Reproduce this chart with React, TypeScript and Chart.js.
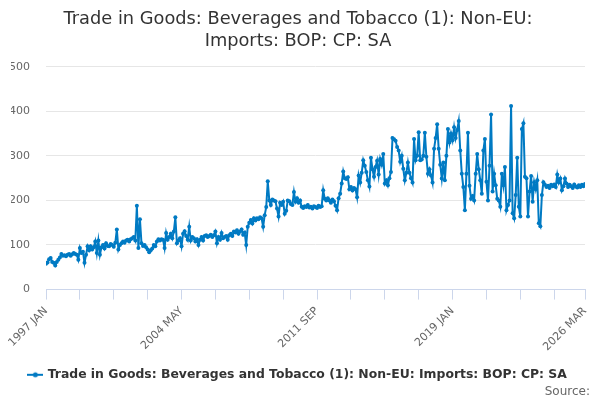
import React, { useEffect, useRef } from "react";
import { Chart, registerables } from "chart.js";

Chart.register(...registerables);

const TITLE = ["Trade in Goods: Beverages and Tobacco (1): Non-EU:", "Imports: BOP: CP: SA"];
const SERIES_NAME = "Trade in Goods: Beverages and Tobacco (1): Non-EU: Imports: BOP: CP: SA";
const MONTHS = ["JAN", "FEB", "MAR", "APR", "MAY", "JUN", "JUL", "AUG", "SEP", "OCT", "NOV", "DEC"];
const START_YEAR = 1997;
const Y_TICKS = [0, 100, 200, 300, 400, 500];

const v1997 = [58, 61, 68, 71, 62, 60, 54, 62, 67, 72, 80, 76];
const v1998 = [77, 75, 78, 80, 76, 79, 82, 80, 78, 67, 93, 82];
const v1999 = [85, 60, 78, 97, 88, 97, 90, 95, 108, 82, 110, 78];
const v2000 = [95, 100, 92, 104, 98, 97, 102, 100, 96, 105, 135, 90];
const v2001 = [100, 104, 108, 105, 110, 112, 108, 113, 115, 118, 110, 188];
const v2002 = [93, 158, 104, 98, 100, 95, 90, 84, 88, 92, 100, 97];
const v2003 = [108, 113, 110, 113, 112, 93, 127, 112, 118, 125, 115, 130];
const v2004 = [162, 104, 110, 115, 97, 125, 131, 120, 112, 141, 110, 118];
const v2005 = [115, 108, 113, 100, 112, 118, 110, 120, 122, 118, 120, 123];
const v2006 = [118, 122, 130, 104, 118, 112, 127, 115, 118, 120, 112, 122];
const v2007 = [125, 120, 130, 128, 133, 125, 130, 135, 123, 128, 100, 141];
const v2008 = [150, 156, 148, 160, 155, 160, 158, 162, 160, 141, 167, 185];
const v2009 = [243, 200, 190, 202, 200, 198, 182, 164, 195, 190, 197, 170];
const v2010 = [177, 200, 198, 192, 190, 219, 197, 205, 195, 200, 186, 183];
const v2011 = [187, 185, 190, 184, 186, 182, 187, 185, 183, 188, 185, 187];
const v2012 = [223, 204, 200, 205, 200, 195, 202, 198, 188, 178, 205, 215];
const v2013 = [238, 265, 250, 248, 252, 225, 230, 222, 228, 225, 207, 256];
const v2014 = [240, 262, 290, 278, 264, 245, 231, 296, 270, 253, 275, 289];
const v2015 = [258, 293, 280, 304, 238, 245, 234, 250, 264, 340, 337, 334];
const v2016 = [320, 312, 287, 300, 271, 245, 262, 285, 262, 250, 240, 338];
const v2017 = [290, 300, 353, 290, 292, 300, 352, 298, 260, 270, 256, 240];
const v2018 = [316, 340, 371, 316, 280, 249, 285, 245, 300, 360, 330, 350];
const v2019 = [335, 364, 340, 358, 378, 312, 260, 230, 178, 260, 352, 233];
const v2020 = [204, 210, 200, 260, 304, 270, 245, 215, 312, 338, 242, 200];
const v2021 = [278, 393, 220, 260, 234, 204, 200, 186, 260, 234, 275, 178];
const v2022 = [190, 200, 412, 171, 160, 212, 296, 186, 164, 360, 373, 253];
const v2023 = [250, 164, 220, 255, 197, 241, 225, 245, 149, 142, 212, 241];
const v2024 = [235, 230, 233, 228, 235, 232, 236, 230, 258, 240, 249, 223];
const v2025 = [232, 249, 238, 230, 235, 232, 228, 236, 231, 229, 234, 230];
const v2026 = [235, 232, 237];

const VALUES = [
  ...v1997, ...v1998, ...v1999, ...v2000, ...v2001, ...v2002, ...v2003, ...v2004,
  ...v2005, ...v2006, ...v2007, ...v2008, ...v2009, ...v2010, ...v2011, ...v2012,
  ...v2013, ...v2014, ...v2015, ...v2016, ...v2017, ...v2018, ...v2019, ...v2020,
  ...v2021, ...v2022, ...v2023, ...v2024, ...v2025, ...v2026,
];

const CATEGORIES = VALUES.map((_, i) => `${START_YEAR + Math.floor(i / 12)} ${MONTHS[i % 12]}`);
const TICK_STEP = 22;
const LABEL_STEP = 88;

const LINE_COLOR = "#007ac3";
const FONT = "'DejaVu Sans', sans-serif";

function legendSymbol(): HTMLCanvasElement {
  const c = document.createElement("canvas");
  c.width = 16;
  c.height = 8;
  const ctx = c.getContext("2d")!;
  ctx.strokeStyle = LINE_COLOR;
  ctx.lineWidth = 2;
  ctx.beginPath();
  ctx.moveTo(0, 4);
  ctx.lineTo(16, 4);
  ctx.stroke();
  ctx.fillStyle = LINE_COLOR;
  ctx.beginPath();
  ctx.arc(8, 4, 2.5, 0, Math.PI * 2);
  ctx.fill();
  return c;
}

export default function App() {
  const ref = useRef<HTMLCanvasElement | null>(null);

  useEffect(() => {
    document.body.style.margin = "0";
    if (!ref.current) return;
    const last = CATEGORIES.length - 1;
    const symbol = legendSymbol();
    const chart = new Chart(ref.current, {
      type: "line",
      data: {
        datasets: [
          {
            label: SERIES_NAME,
            data: VALUES.map((v, i) => ({ x: i, y: v })),
            borderColor: LINE_COLOR,
            backgroundColor: LINE_COLOR,
            borderWidth: 2,
            pointRadius: 2,
            pointHoverRadius: 2,
            pointBackgroundColor: LINE_COLOR,
            pointBorderWidth: 0,
            tension: 0,
          },
        ],
      },
      options: {
        animation: false,
        responsive: false,
        maintainAspectRatio: false,
        layout: { padding: { left: 11, right: 15, top: 6, bottom: 9 } },
        plugins: {
          title: {
            display: true,
            text: TITLE,
            color: "#333333",
            font: { family: FONT, size: 17.8, weight: "normal", lineHeight: 1.2 },
            padding: { top: 3, bottom: 15 },
          },
          legend: {
            display: true,
            position: "bottom",
            labels: {
              usePointStyle: true,
              color: "#333333",
              font: { family: FONT, size: 12.4, weight: "bold" },
              padding: 10,
              generateLabels: () => [
                {
                  text: SERIES_NAME,
                  pointStyle: symbol,
                  fillStyle: LINE_COLOR,
                  strokeStyle: LINE_COLOR,
                  lineWidth: 0,
                  hidden: false,
                  datasetIndex: 0,
                  fontColor: "#333333",
                },
              ],
            },
          },
          tooltip: { enabled: false },
        },
        scales: {
          x: {
            type: "linear",
            min: 0,
            max: last,
            afterBuildTicks: (scale: any) => {
              const t: { value: number }[] = [];
              for (let i = 0; i < last; i += TICK_STEP) t.push({ value: i });
              t.push({ value: last });
              scale.ticks = t;
            },
            afterFit: (scale: any) => {
              scale.paddingLeft = 0;
              scale.paddingRight = 0;
            },
            ticks: {
              autoSkip: false,
              maxRotation: 45,
              minRotation: 45,
              color: "#666666",
              font: { family: FONT, size: 11 },
              padding: 5,
              callback: (value: any) => {
                const i = Number(value);
                return i % LABEL_STEP === 0 || i === last ? CATEGORIES[i] : "";
              },
            },
            grid: {
              drawOnChartArea: false,
              drawTicks: true,
              tickLength: 10,
              color: "#ccd6eb",
              lineWidth: 1,
            },
            border: { color: "#ccd6eb", width: 1 },
          },
          y: {
            min: 0,
            max: 500,
            afterBuildTicks: (scale: any) => {
              scale.ticks = Y_TICKS.map((v) => ({ value: v }));
            },
            afterFit: (scale: any) => {
              scale.width = 35;
            },
            ticks: {
              color: "#666666",
              font: { family: FONT, size: 11 },
              padding: 16,
            },
            grid: { color: "#e6e6e6", drawTicks: false, lineWidth: 1 },
            border: { display: false },
          },
        },
      },
    });
    return () => chart.destroy();
  }, []);

  return (
    <div style={{ position: "relative", width: 600, height: 400 }}>
      <canvas ref={ref} width={600} height={400} style={{ display: "block" }} />
      <div
        style={{
          position: "absolute",
          right: 10,
          bottom: 2,
          fontFamily: FONT,
          fontSize: 12,
          color: "#666666",
        }}
      >
        Source:
      </div>
    </div>
  );
}
